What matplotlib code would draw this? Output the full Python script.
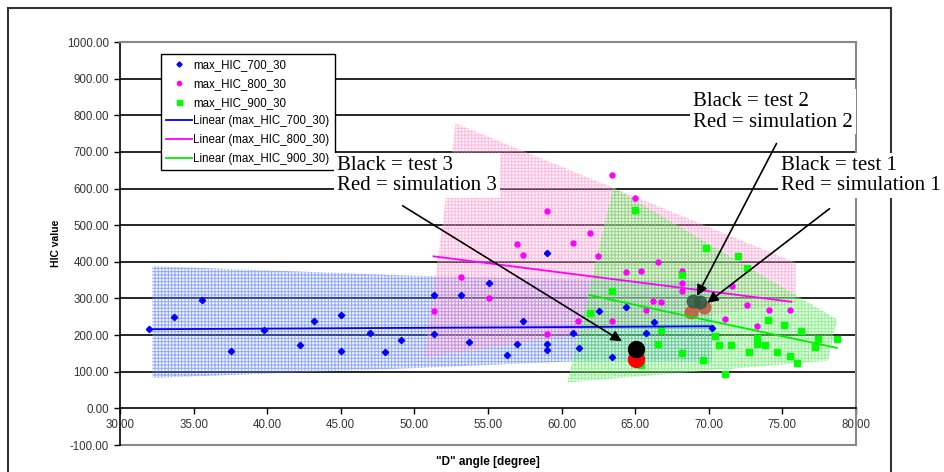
import matplotlib.pyplot as plt
from matplotlib.patches import Polygon, Rectangle
from matplotlib.lines import Line2D

# max_HIC_700_30
angle_700 = [32.0, 33.67, 35.55, 37.56, 39.78, 42.25, 43.16, 45.01, 45.01, 46.98,
             48.0, 49.09, 51.33, 51.33, 53.15, 53.73, 55.05, 56.31, 56.95, 57.36,
             59.03, 59.03, 59.03, 60.80, 61.20, 62.56, 63.40, 64.38, 65.73, 66.30, 70.19]
hic_700 = [217, 249, 296, 156, 213, 173, 238, 254, 156, 205,
           153, 186, 310, 204, 310, 182, 341, 147, 176, 238,
           423, 176, 158, 206, 165, 266, 140, 277, 206, 236, 220]

# max_HIC_800_30
angle_800 = [51.33, 53.15, 55.05, 56.95, 57.36, 59.03, 59.03, 60.75, 61.14, 61.93,
             62.49, 63.40, 63.40, 64.38, 64.99, 65.39, 65.73, 66.23, 66.57, 66.75,
             68.20, 68.20, 68.20, 71.10, 71.55, 72.57, 73.29, 74.06, 75.54]
hic_800 = [265, 359, 300, 448, 418, 538, 202, 451, 238, 478,
           415, 637, 238, 371, 575, 374, 268, 293, 400, 290,
           375, 343, 321, 244, 334, 282, 224, 269, 269]

# max_HIC_900_30
angle_900 = [61.93, 63.40, 64.99, 65.39, 66.57, 66.75, 68.20, 68.20, 69.63, 69.81,
             70.42, 70.69, 71.10, 71.51, 71.96, 72.57, 72.73, 73.25, 73.25, 73.84,
             74.02, 74.65, 75.08, 75.52, 75.97, 76.26, 77.22, 77.44, 78.69]
hic_900 = [261, 319, 542, 118, 176, 214, 363, 152, 133, 437,
           197, 173, 94, 173, 415, 384, 154, 193, 176, 173,
           241, 154, 227, 143, 124, 211, 168, 190, 190]

# 線形近似 (端点を図から読み取り)
trend_700_x = [32.0, 70.2]
trend_700_y = [216, 224]
trend_800_x = [51.3, 75.6]
trend_800_y = [415, 291]
trend_900_x = [61.9, 78.7]
trend_900_y = [309, 165]

# 網掛け領域
band_700_x = [32.2, 50.0, 60.6, 70.2, 70.2, 60.6, 50.0, 32.2]
band_700_y = [388, 362, 353, 348, 128, 128, 110, 83]
band_800_x = [52.8, 75.9, 75.9, 50.7]
band_800_y = [778, 398, 288, 140]
band_900_x = [63.5, 78.7, 78.1, 60.4]
band_900_y = [603, 243, 130, 71]

# 試験 / シミュレーション (1, 2, 3)
test_angle = [69.4, 68.9, 65.06]
test_hic = [290, 292, 161]
sim_angle = [69.7, 68.8, 65.06]
sim_hic = [276, 262, 134]

labels_series = ["max_HIC_700_30", "max_HIC_800_30", "max_HIC_900_30"]


def main():
    plt.rcParams['font.family'] = ['Liberation Sans', 'DejaVu Sans']
    plt.rcParams['hatch.linewidth'] = 0.7

    fig = plt.figure(figsize=(9.44, 4.72), dpi=100)
    ax = fig.add_axes([120 / 944, 1 - 445 / 472, 736 / 944, 403 / 472])
    ax.set_xlim(30, 80)
    ax.set_ylim(-100, 1000)

    # 外枠
    fig.add_artist(Rectangle((8 / 944, -0.1), (891 - 8) / 944, 1.1 - 8 / 472,
                             transform=fig.transFigure, fill=False,
                             ec='#333333', lw=1.5, zorder=-1))

    # 目盛線
    ax.hlines(range(100, 1000, 100), 30, 80, color='black', lw=1.2, zorder=0.5)
    ax.axhline(-100, color='#888888', lw=1.5, clip_on=False, zorder=0.5)

    # 網掛け領域
    bands = [(band_700_x, band_700_y, (0.6, 0.72, 1.0, 0.12), (0.25, 0.4, 1.0, 0.55)),
             (band_800_x, band_800_y, (1.0, 0.72, 0.86, 0.15), (1.0, 0.5, 0.78, 0.5)),
             (band_900_x, band_900_y, (0.55, 1.0, 0.55, 0.2), (0.3, 0.9, 0.3, 0.55))]
    for bx, by, fc, hc in bands:
        poly = Polygon(list(zip(bx, by)), closed=True, fc=fc, ec=hc, lw=0,
                       hatch='+++++', zorder=1)
        ax.add_patch(poly)

    # 試験1,2
    ax.plot(sim_angle[:2], sim_hic[:2], 'o', color='#c8553a', ms=9, alpha=0.85,
            zorder=1.5)
    ax.plot(test_angle[:2], test_hic[:2], 'o', color='#2f5a44', ms=9, alpha=0.85,
            zorder=1.6)

    # 散布図
    ax.plot(angle_700, hic_700, 'D', color='#0000ff', ms=3.2, ls='none', zorder=3)
    ax.plot(angle_800, hic_800, 'o', color='#ff00ff', ms=3.6, ls='none', zorder=3)
    ax.plot(angle_900, hic_900, 's', color='#00ff00', ms=4.2, ls='none', zorder=3)

    # 近似直線
    ax.plot(trend_700_x, trend_700_y, color='#0000ff', lw=1.3, zorder=4)
    ax.plot(trend_800_x, trend_800_y, color='#ff00ff', lw=1.3, zorder=4)
    ax.plot(trend_900_x, trend_900_y, color='#00ee00', lw=1.3, zorder=4)

    # 試験3
    ax.plot(sim_angle[2], sim_hic[2], 'o', color='red', ms=11.5, zorder=8)
    ax.plot(test_angle[2], test_hic[2], 'o', color='black', ms=11.5, zorder=8)

    # 軸
    for s in ['top', 'right']:
        ax.spines[s].set_color('#888888')
        ax.spines[s].set_linewidth(1.5)
    ax.spines['left'].set_color('black')
    ax.spines['left'].set_linewidth(1.2)
    ax.spines['bottom'].set_position(('data', 0))
    ax.spines['bottom'].set_color('black')
    ax.spines['bottom'].set_linewidth(1.2)

    ax.set_xticks(range(30, 81, 5))
    ax.set_xticklabels(["{:.2f}".format(v) for v in range(30, 81, 5)])
    ax.set_yticks(range(-100, 1001, 100))
    ax.set_yticklabels(["{:.2f}".format(v) for v in range(-100, 1001, 100)])
    ax.tick_params(direction='out', length=4, width=1, labelsize=8.3,
                   labelcolor='#333333', pad=4)

    ax.set_ylabel("HIC value", fontsize=7.5, fontweight='bold')
    ax.yaxis.set_label_coords(-0.08, 0.5)
    ax.set_xlabel('"D" angle [degree]', fontsize=8.5, fontweight='bold')
    ax.xaxis.set_label_coords(0.5, -0.028)

    # 凡例
    handles = [Line2D([], [], marker='D', color='#0000ff', ms=2.6, ls='none'),
               Line2D([], [], marker='o', color='#ff00ff', ms=3, ls='none'),
               Line2D([], [], marker='s', color='#00ff00', ms=3.6, ls='none'),
               Line2D([], [], color='#0000ff', lw=1.3),
               Line2D([], [], color='#ff00ff', lw=1.3),
               Line2D([], [], color='#00ee00', lw=1.3)]
    labels = labels_series + ["Linear (" + s + ")" for s in labels_series]
    leg = ax.legend(handles, labels, loc='upper left',
                    bbox_to_anchor=(0.0557, 0.970), borderaxespad=0,
                    fontsize=8.3, fancybox=False, framealpha=1,
                    edgecolor='black', handlelength=2.2, handletextpad=0.15,
                    labelspacing=0.58, borderpad=0.45)
    leg.get_frame().set_linewidth(1.0)
    leg.set_zorder(6)

    # 注記
    serif = ['Liberation Serif', 'DejaVu Serif']
    notes = [(44.75, 690, "Black = test 3\nRed = simulation 3"),
             (68.93, 863, "Black = test 2\nRed = simulation 2"),
             (74.9, 690, "Black = test 1\nRed = simulation 1")]
    for nx, ny, txt in notes:
        ax.text(nx, ny, txt, family=serif, fontsize=15, va='top', ha='left',
                linespacing=1.1, zorder=10,
                bbox=dict(fc='white', ec='none', pad=2))

    arrows = [((49.2, 553), (64.1, 183)),
              ((74.6, 723), (69.2, 307)),
              ((78.2, 545), (69.9, 288))]
    for start, end in arrows:
        ax.annotate('', xy=end, xytext=start,
                    arrowprops=dict(arrowstyle='-|>', color='black', lw=1.2,
                                    mutation_scale=16, shrinkA=0, shrinkB=0),
                    zorder=9)

    plt.savefig("out.png", dpi=100)


if __name__ == '__main__':
    main()
